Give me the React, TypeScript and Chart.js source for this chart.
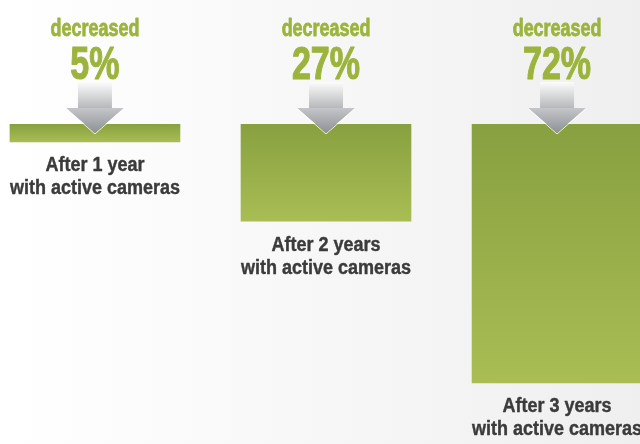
import React, { useEffect, useRef } from "react";
import { Chart, registerables } from "chart.js";

Chart.register(...registerables);

const categories = ["After 1 year", "After 2 years", "After 3 years"];
const subLabel = "with active cameras";
const headline = "decreased";
const decreasePct = [5, 27, 72];

const GREEN_TEXT = "#9cb43d";
const DARK_TEXT = "#3b3b3b";
const FONT = '"Liberation Sans", Arial, sans-serif';

function squeezedText(ctx: any, text: string, x: number, y: number, font: string, sx: number, stroke: number) {
  ctx.save();
  ctx.translate(x, y);
  ctx.scale(sx, 1);
  ctx.font = font;
  ctx.fillText(text, 0, 0);
  if (stroke > 0) {
    ctx.strokeStyle = ctx.fillStyle;
    ctx.lineWidth = stroke;
    ctx.lineJoin = "round";
    ctx.strokeText(text, 0, 0);
  }
  ctx.restore();
}

const overlayPlugin = {
  id: "overlay",
  beforeDraw(chart: any) {
    const { ctx, width, height } = chart;
    ctx.save();
    const g = ctx.createLinearGradient(0, 0, width, 0);
    g.addColorStop(0, "#ffffff");
    g.addColorStop(0.5, "#f7f7f7");
    g.addColorStop(1, "#efefef");
    ctx.fillStyle = g;
    ctx.fillRect(0, 0, width, height);
    ctx.restore();
  },
  afterDatasetsDraw(chart: any) {
    const { ctx } = chart;
    const meta = chart.getDatasetMeta(0);
    ctx.save();
    meta.data.forEach((bar: any, i: number) => {
      const x = bar.x;
      const top = bar.base;
      const bottom = bar.y;
      ctx.fillStyle = GREEN_TEXT;
      ctx.textAlign = "center";
      ctx.textBaseline = "alphabetic";
      squeezedText(ctx, headline, x, 36, `bold 23px ${FONT}`, 0.78, 0.8);
      squeezedText(ctx, decreasePct[i] + "%", x, 79, `bold 46px ${FONT}`, 0.74, 1.2);
      // arrow
      const shaftTop = top - 42;
      const headTop = top - 16;
      const tip = top + 9;
      const sg = ctx.createLinearGradient(0, shaftTop, 0, headTop);
      sg.addColorStop(0, "rgba(252,252,252,1)");
      sg.addColorStop(1, "#b6b8bb");
      ctx.fillStyle = sg;
      ctx.fillRect(x - 17, shaftTop, 34, headTop - shaftTop + 1);
      const hg = ctx.createLinearGradient(0, headTop, 0, tip);
      hg.addColorStop(0, "#c4c6c9");
      hg.addColorStop(1, "#8d9095");
      ctx.beginPath();
      ctx.moveTo(x - 29, headTop);
      ctx.lineTo(x + 29, headTop);
      ctx.lineTo(x, tip);
      ctx.closePath();
      ctx.fillStyle = hg;
      ctx.fill();
      ctx.strokeStyle = "rgba(255,255,255,0.8)";
      ctx.lineWidth = 1;
      ctx.beginPath();
      ctx.moveTo(x - 29, headTop + 0.5);
      ctx.lineTo(x, tip + 1);
      ctx.lineTo(x + 29, headTop + 0.5);
      ctx.stroke();
      // labels below
      ctx.fillStyle = DARK_TEXT;
      ctx.textBaseline = "middle";
      squeezedText(ctx, categories[i], x, bottom + 24, `bold 20px ${FONT}`, 0.9, 0.4);
      squeezedText(ctx, subLabel, x, bottom + 47, `bold 20px ${FONT}`, 0.9, 0.4);
    });
    ctx.restore();
  },
};

export default function App() {
  const ref = useRef<HTMLCanvasElement | null>(null);
  useEffect(() => {
    if (!ref.current) return;
    const chart = new Chart(ref.current, {
      type: "bar",
      data: {
        datasets: [
          {
            data: decreasePct.map((v, i) => ({ x: i, y: v })),
            barThickness: 170,
            backgroundColor: (c: any) => {
              const ch = c.chart;
              const ys = ch.scales?.y;
              const raw = c.raw;
              if (!ys || !raw) return "#9cb245";
              const t = ys.getPixelForValue(0);
              const b = ys.getPixelForValue(raw.y);
              if (!isFinite(t) || !isFinite(b) || b - t < 1) return "#9cb245";
              const g = ch.ctx.createLinearGradient(0, t, 0, b);
              g.addColorStop(0, "#88a040");
              g.addColorStop(1, "#a9bd54");
              return g;
            },
            borderWidth: 0,
          },
        ],
      },
      options: {
        animation: false,
        responsive: false,
        maintainAspectRatio: false,
        layout: { padding: { top: 124, bottom: 0, left: 0, right: 0 } },
        plugins: { legend: { display: false }, tooltip: { enabled: false } },
        scales: {
          x: {
            type: "linear",
            offset: false,
            min: -0.411,
            max: 2.359,
            display: false,
          },
          y: {
            reverse: true,
            min: 0,
            max: 89,
            display: false,
          },
        },
      },
      plugins: [overlayPlugin],
    });
    return () => chart.destroy();
  }, []);
  return (
    <div style={{ position: "fixed", left: 0, top: 0, width: 640, height: 444 }}>
      <canvas ref={ref} width={640} height={444} />
    </div>
  );
}
